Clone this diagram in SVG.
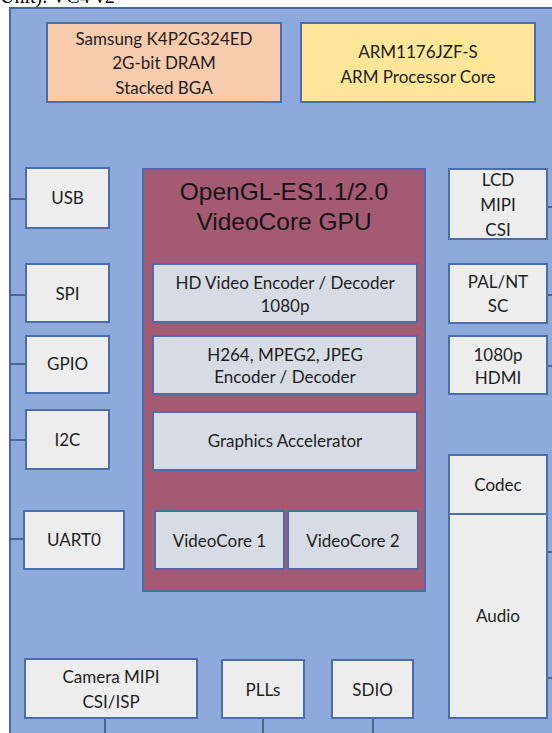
<svg xmlns="http://www.w3.org/2000/svg" width="552" height="733" viewBox="0 0 552 733">
<style>
.panel{fill:#8EA9DB;stroke:#46679F;stroke-width:2}
.box{fill:#EDEDED;stroke:#4A6EAA;stroke-width:2}
.inner{fill:#D7DCE4;stroke:#4A6EAA;stroke-width:2}
.gpu{fill:#A45A73;stroke:#4A6EAA;stroke-width:2}
.dram{fill:#F8CBAD;stroke:#4A6EAA;stroke-width:2}
.arm{fill:#FFE699;stroke:#4A6EAA;stroke-width:2}
.conn line{stroke:#3A4F7A;stroke-width:1.5}
text{font-family:Lato,"Liberation Sans",sans-serif;font-size:17px;fill:#1E1E1E;text-anchor:middle}
.title{font-family:"Liberation Sans",Arial,sans-serif;font-size:24.5px;fill:#141414}
.cap{font-family:"Liberation Serif",serif;font-size:20px;fill:#000;text-anchor:start}
</style>
<rect width="552" height="733" fill="#FFFFFF"/>
<text class="cap" x="0" y="3">Unit). VC4 v2</text>
<rect class="panel" x="10" y="8" width="560" height="740"/>
<g class="conn">
<line x1="10" y1="199" x2="26" y2="199"/>
<line x1="10" y1="295" x2="26" y2="295"/>
<line x1="10" y1="364" x2="26" y2="364"/>
<line x1="10" y1="440" x2="26" y2="440"/>
<line x1="10" y1="539" x2="24" y2="539"/>
<line x1="105" y1="718" x2="105" y2="733"/>
<line x1="263" y1="718" x2="263" y2="733"/>
<line x1="373" y1="718" x2="373" y2="733"/>
<line x1="547" y1="207" x2="552" y2="207"/>
<line x1="547" y1="295" x2="552" y2="295"/>
<line x1="547" y1="366" x2="552" y2="366"/>
<line x1="547" y1="552" x2="552" y2="552"/>
<line x1="547" y1="678" x2="552" y2="678"/>
</g>
<g id="dram"><rect class="dram" x="47" y="23" width="234" height="79"/>
<text x="164" y="45">Samsung K4P2G324ED</text><text x="164" y="69">2G-bit DRAM</text><text x="164" y="94">Stacked BGA</text></g>
<g id="arm"><rect class="arm" x="301" y="23" width="234" height="79"/>
<text x="418" y="58">ARM1176JZF-S</text><text x="418" y="83">ARM Processor Core</text></g>
<g id="usb"><rect class="box" x="26" y="168" width="83" height="60"/><text x="67.5" y="204">USB</text></g>
<g id="spi"><rect class="box" x="26" y="264" width="83" height="58"/><text x="67.5" y="300">SPI</text></g>
<g id="gpio"><rect class="box" x="26" y="336" width="83" height="57"/><text x="67.5" y="370">GPIO</text></g>
<g id="i2c"><rect class="box" x="26" y="410" width="83" height="59"/><text x="67.5" y="446">I2C</text></g>
<g id="uart0"><rect class="box" x="24" y="511" width="100" height="58"/><text x="74" y="546">UART0</text></g>
<g id="camera"><rect class="box" x="25" y="659" width="172" height="59"/><text x="111" y="683">Camera MIPI</text><text x="111" y="708">CSI/ISP</text></g>
<g id="gpu"><rect class="gpu" x="143" y="169" width="282" height="422"/>
<text class="title" x="284" y="200">OpenGL-ES1.1/2.0</text><text class="title" x="284" y="230">VideoCore GPU</text></g>
<g id="hdvideo"><rect class="inner" x="153" y="264" width="264" height="58"/><text x="285" y="289">HD Video Encoder / Decoder</text><text x="285" y="312">1080p</text></g>
<g id="h264"><rect class="inner" x="153" y="336" width="264" height="58"/><text x="285" y="361">H264, MPEG2, JPEG</text><text x="285" y="383">Encoder / Decoder</text></g>
<g id="graphics"><rect class="inner" x="153" y="412" width="264" height="58"/><text x="285" y="447">Graphics Accelerator</text></g>
<g id="vc1"><rect class="inner" x="155" y="511" width="129" height="58"/><text x="219.5" y="547">VideoCore 1</text></g>
<g id="vc2"><rect class="inner" x="288" y="511" width="130" height="58"/><text x="353" y="547">VideoCore 2</text></g>
<g id="lcd"><rect class="box" x="449" y="169" width="98" height="70"/><text x="498" y="186">LCD</text><text x="498" y="211">MIPI</text><text x="498" y="236">CSI</text></g>
<g id="pal"><rect class="box" x="449" y="264" width="98" height="59"/><text x="498" y="288">PAL/NT</text><text x="498" y="312">SC</text></g>
<g id="hdmi"><rect class="box" x="449" y="336" width="98" height="58"/><text x="498" y="361">1080p</text><text x="498" y="384">HDMI</text></g>
<g id="codec"><rect class="box" x="449" y="455" width="98" height="59"/><text x="498" y="491">Codec</text></g>
<g id="audio"><rect class="box" x="449" y="514" width="98" height="204"/><text x="498" y="622">Audio</text></g>
<g id="plls"><rect class="box" x="222" y="660" width="82" height="58"/><text x="263" y="696">PLLs</text></g>
<g id="sdio"><rect class="box" x="332" y="660" width="81" height="58"/><text x="372.5" y="696">SDIO</text></g>
</svg>
